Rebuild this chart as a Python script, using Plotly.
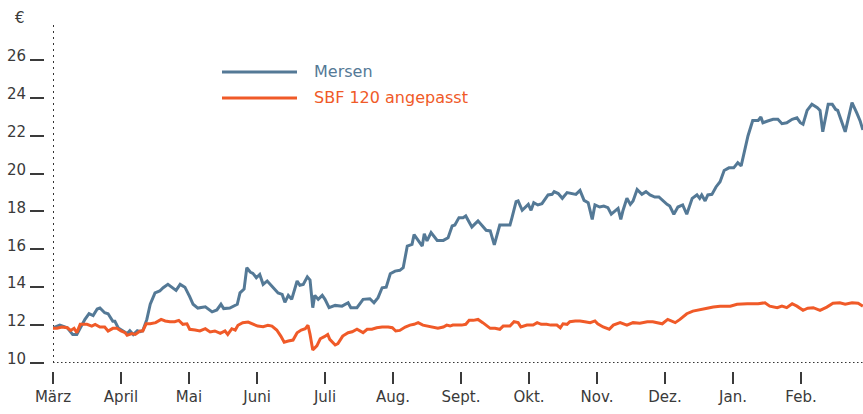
import plotly.graph_objects as go

# Time axis: months elapsed since 1 March (0 = März, 11 = Feb.)
month_labels = ["März", "April", "Mai", "Juni", "Juli", "Aug.", "Sept.", "Okt.", "Nov.", "Dez.", "Jan.", "Feb."]
month_ticks = list(range(12))
price_ticks = [10, 12, 14, 16, 18, 20, 22, 24, 26]

mersen_month = [0.00, 0.10, 0.21, 0.29, 0.35, 0.43, 0.47, 0.53, 0.59, 0.65, 0.69, 0.76, 0.81, 0.88, 0.91, 0.96,
                1.03, 1.09, 1.13, 1.18, 1.24, 1.28, 1.32, 1.38, 1.43, 1.50, 1.57, 1.62, 1.69, 1.75, 1.81, 1.87, 1.94,
                2.01, 2.06, 2.13, 2.24, 2.34, 2.41, 2.47, 2.51, 2.60, 2.71, 2.75, 2.81, 2.85, 2.90, 2.94, 2.99,
                3.04, 3.09, 3.15, 3.22, 3.31, 3.37, 3.41, 3.46, 3.51, 3.59, 3.63, 3.68, 3.74, 3.78, 3.82, 3.85, 3.90, 3.96,
                4.00, 4.06, 4.15, 4.25, 4.34, 4.38, 4.47, 4.56, 4.66, 4.72, 4.78, 4.84, 4.90, 4.96,
                5.03, 5.10, 5.15, 5.21, 5.28, 5.31, 5.37, 5.43, 5.46, 5.50, 5.56, 5.65, 5.74, 5.81, 5.87, 5.91, 5.97,
                6.03, 6.07, 6.12, 6.16, 6.25, 6.31, 6.37, 6.43, 6.49, 6.57, 6.65, 6.72, 6.75, 6.81, 6.84, 6.90, 6.99,
                7.03, 7.07, 7.13, 7.19, 7.28, 7.34, 7.37, 7.43, 7.49, 7.56, 7.63, 7.69, 7.75, 7.81, 7.87, 7.93, 7.97,
                8.04, 8.10, 8.16, 8.21, 8.31, 8.35, 8.38, 8.44, 8.49, 8.53, 8.59, 8.66, 8.72, 8.78, 8.85, 8.91, 8.97,
                9.03, 9.07, 9.13, 9.19, 9.26, 9.32, 9.40, 9.47, 9.51, 9.54, 9.59, 9.63, 9.69, 9.75, 9.81, 9.87, 9.94,
                10.01, 10.07, 10.12, 10.18, 10.22, 10.29, 10.37, 10.41, 10.44, 10.51, 10.59, 10.66, 10.72, 10.79, 10.87, 10.94, 10.99,
                11.03, 11.09, 11.16, 11.24, 11.28, 11.32, 11.40, 11.46, 11.51, 11.54, 11.65, 11.75, 11.82, 11.87, 11.91]
mersen_eur = [11.85, 12.0, 11.86, 11.5, 11.5, 12.05, 12.3, 12.6, 12.5, 12.85, 12.9, 12.65, 12.6, 12.2, 12.2, 11.85,
              11.7, 11.55, 11.7, 11.5, 11.7, 11.65, 11.7, 12.3, 13.1, 13.7, 13.8, 13.97, 14.15, 13.97, 13.83, 14.15, 14.0,
              13.5, 13.1, 12.9, 12.97, 12.7, 12.8, 13.1, 12.87, 12.9, 13.1, 13.7, 13.9, 15.03, 14.8, 14.73, 14.5,
              14.67, 14.15, 14.33, 14.06, 13.7, 13.62, 13.2, 13.57, 13.36, 14.33, 14.1, 14.15, 14.55, 14.38, 12.92, 13.57, 13.36, 13.57,
              13.36, 12.92, 13.04, 13.0, 13.18, 12.92, 12.92, 13.36, 13.39, 13.18, 13.45, 13.97, 14.0, 14.71,
              14.85, 14.89, 15.03, 16.17, 16.26, 16.78, 16.44, 16.17, 16.82, 16.44, 16.88, 16.47, 16.47, 16.61, 17.23, 17.28, 17.67,
              17.67, 17.76, 17.4, 17.18, 17.5, 17.23, 17.0, 16.97, 16.23, 17.28, 17.28, 17.28, 17.67, 18.51, 18.55, 18.06, 18.37,
              18.06, 18.46, 18.34, 18.41, 18.87, 18.9, 19.04, 18.94, 18.69, 18.99, 18.94, 18.9, 19.11, 18.58, 18.46, 17.58, 18.34,
              18.23, 18.28, 18.2, 17.85, 18.16, 17.58, 18.02, 18.69, 18.37, 18.55, 19.16, 18.9, 19.04, 18.87, 18.76, 18.76, 18.55,
              18.37, 18.28, 17.85, 18.23, 18.34, 17.85, 18.69, 18.87, 18.69, 18.87, 18.55, 18.87, 18.9, 19.29, 19.57, 20.16, 20.3,
              20.3, 20.57, 20.4, 21.3, 21.98, 22.8, 22.8, 22.98, 22.68, 22.77, 22.86, 22.86, 22.63, 22.68, 22.86, 22.94, 22.68,
              22.6, 23.33, 23.65, 23.47, 23.33, 22.2, 23.65, 23.65, 23.38, 23.33, 22.2, 23.74, 23.2, 22.77, 22.3]

sbf_month = [0.00, 0.06, 0.13, 0.21, 0.26, 0.31, 0.35, 0.40, 0.50, 0.57, 0.62, 0.69, 0.76, 0.81, 0.88, 0.94,
             1.00, 1.06, 1.09, 1.16, 1.21, 1.28, 1.32, 1.37, 1.43, 1.51, 1.59, 1.65, 1.72, 1.79, 1.85, 1.91, 1.97,
             2.01, 2.09, 2.16, 2.24, 2.31, 2.38, 2.46, 2.53, 2.57, 2.63, 2.68, 2.72, 2.79, 2.87, 2.94,
             3.01, 3.09, 3.16, 3.22, 3.29, 3.35, 3.40, 3.46, 3.53, 3.59, 3.65, 3.71, 3.75, 3.78, 3.82, 3.88, 3.93, 3.99,
             4.04, 4.07, 4.15, 4.19, 4.26, 4.34, 4.40, 4.47, 4.51, 4.56, 4.62, 4.69, 4.76, 4.84, 4.93, 4.99,
             5.04, 5.10, 5.18, 5.25, 5.31, 5.37, 5.44, 5.51, 5.59, 5.66, 5.74, 5.79, 5.84, 5.88, 5.94,
             6.01, 6.07, 6.12, 6.18, 6.25, 6.32, 6.43, 6.50, 6.57, 6.62, 6.72, 6.78, 6.84, 6.88, 6.97,
             7.06, 7.12, 7.18, 7.26, 7.32, 7.41, 7.46, 7.50, 7.56, 7.60, 7.68, 7.75, 7.82, 7.90, 7.97,
             8.01, 8.09, 8.18, 8.24, 8.34, 8.44, 8.53, 8.63, 8.74, 8.82, 8.96,
             9.04, 9.15, 9.22, 9.32, 9.41, 9.51, 9.62, 9.71, 9.81, 9.96,
             10.06, 10.21, 10.37, 10.47, 10.54, 10.65, 10.72, 10.79, 10.87, 10.94,
             11.03, 11.10, 11.18, 11.28, 11.38, 11.47, 11.57, 11.65, 11.75, 11.84, 11.91]
sbf_eur = [11.83, 11.83, 11.9, 11.86, 11.72, 11.83, 11.6, 12.04, 12.04, 11.95, 12.04, 11.9, 11.9, 11.69, 11.83, 11.83,
           11.69, 11.6, 11.46, 11.55, 11.51, 11.69, 11.69, 12.07, 12.07, 12.13, 12.3, 12.22, 12.18, 12.18, 12.25, 12.04, 12.07,
           11.78, 11.74, 11.69, 11.81, 11.64, 11.69, 11.56, 11.69, 11.51, 11.81, 11.74, 11.99, 12.13, 12.16, 12.04,
           11.95, 11.92, 11.99, 11.95, 11.74, 11.42, 11.1, 11.16, 11.21, 11.6, 11.74, 11.81, 11.99, 11.51, 10.69, 10.9, 11.28, 11.39,
           11.51, 11.25, 10.95, 11.02, 11.42, 11.6, 11.65, 11.78, 11.69, 11.6, 11.78, 11.78, 11.86, 11.9, 11.9, 11.86,
           11.69, 11.72, 11.9, 12.0, 12.04, 12.13, 12.0, 11.95, 11.9, 11.83, 11.9, 12.0, 11.95, 12.0, 12.0,
           12.0, 12.04, 12.25, 12.25, 12.3, 12.13, 11.83, 11.83, 11.78, 11.95, 11.95, 12.18, 12.13, 11.9, 12.0,
           12.0, 12.13, 12.04, 12.04, 12.0, 12.0, 11.86, 12.07, 12.04, 12.18, 12.22, 12.22, 12.18, 12.13, 12.22,
           12.07, 11.9, 11.78, 12.0, 12.13, 12.0, 12.13, 12.1, 12.18, 12.18, 12.07,
           12.3, 12.13, 12.3, 12.6, 12.74, 12.83, 12.89, 12.95, 13.0, 13.0,
           13.1, 13.13, 13.13, 13.18, 13.0, 12.92, 13.0, 12.92, 13.13, 13.0,
           12.78, 12.89, 12.92, 12.78, 12.95, 13.15, 13.18, 13.1, 13.18, 13.15, 13.0]

BLUE = "#547996"
ORANGE = "#f05a28"
TEXT = "#3a3a3a"
FONT = "DejaVu Sans"

W, H = 863, 414
x_left, x_right = 53, 863
y_top, y_bottom = 22, 363

fig = go.Figure()
fig.add_trace(go.Scatter(x=mersen_month, y=mersen_eur, mode="lines", name="Mersen",
                         line=dict(color=BLUE, width=3), showlegend=False))
fig.add_trace(go.Scatter(x=sbf_month, y=sbf_eur, mode="lines", name="SBF 120 angepasst",
                         line=dict(color=ORANGE, width=3), showlegend=False))

# dotted axis lines
fig.add_shape(type="line", xref="x", yref="paper", x0=0, x1=0,
              y0=(H - y_bottom) / H, y1=(H - y_top) / H,
              line=dict(color="#333333", width=2, dash="2px,4px"), layer="below")
fig.add_shape(type="line", xref="paper", yref="y", x0=x_left / W, x1=1, y0=10, y1=10,
              line=dict(color="#333333", width=2, dash="1.5px,2.5px"), layer="below")

# legend (drawn manually to get long key lines)
for i, (name, col) in enumerate([("Mersen", BLUE), ("SBF 120 angepasst", ORANGE)]):
    ypix = 72 + i * 26
    fig.add_shape(type="line", xref="paper", yref="paper", x0=222 / W, x1=297 / W,
                  y0=(H - ypix) / H, y1=(H - ypix) / H, line=dict(color=col, width=3))
    fig.add_annotation(text=name, xref="paper", yref="paper", x=312 / W, y=(H - ypix + 1) / H,
                       xanchor="left", yanchor="middle", showarrow=False,
                       font=dict(family=FONT, size=16, color=col))

fig.add_annotation(text="€", xref="paper", yref="paper", x=20 / W, y=(H - 18) / H,
                   xanchor="center", yanchor="middle", showarrow=False,
                   font=dict(family=FONT, size=15, color=TEXT))

fig.update_layout(
    width=W, height=H,
    margin=dict(l=0, r=0, t=0, b=0, pad=0, autoexpand=False),
    paper_bgcolor="white", plot_bgcolor="white",
    font=dict(family=FONT, size=15, color=TEXT),
    xaxis=dict(domain=[x_left / W, x_right / W], range=[0, (x_right - x_left) / 68],
               anchor="free", position=(H - 371) / H, automargin=False,
               tickvals=month_ticks, ticktext=month_labels,
               ticks="outside", ticklen=12, tickwidth=1.5, tickcolor=TEXT,
               showline=False, showgrid=False, zeroline=False,
               tickfont=dict(family=FONT, size=15, color=TEXT)),
    yaxis=dict(domain=[(H - y_bottom) / H, (H - y_top) / H], range=[10, 10 + (y_bottom - y_top) / 18.95],
               anchor="free", position=44 / W, automargin=False,
               tickvals=price_ticks, ticks="outside", ticklen=14, tickwidth=1.5, tickcolor=TEXT,
               ticklabelshift=-4, ticklabelstandoff=1,
               showline=False, showgrid=False, zeroline=False,
               tickfont=dict(family=FONT, size=15, color=TEXT)),
)

fig.write_html("out.html", config={"displayModeBar": False},
               post_script="document.body.style.margin='0px';document.body.style.overflow='hidden';")
